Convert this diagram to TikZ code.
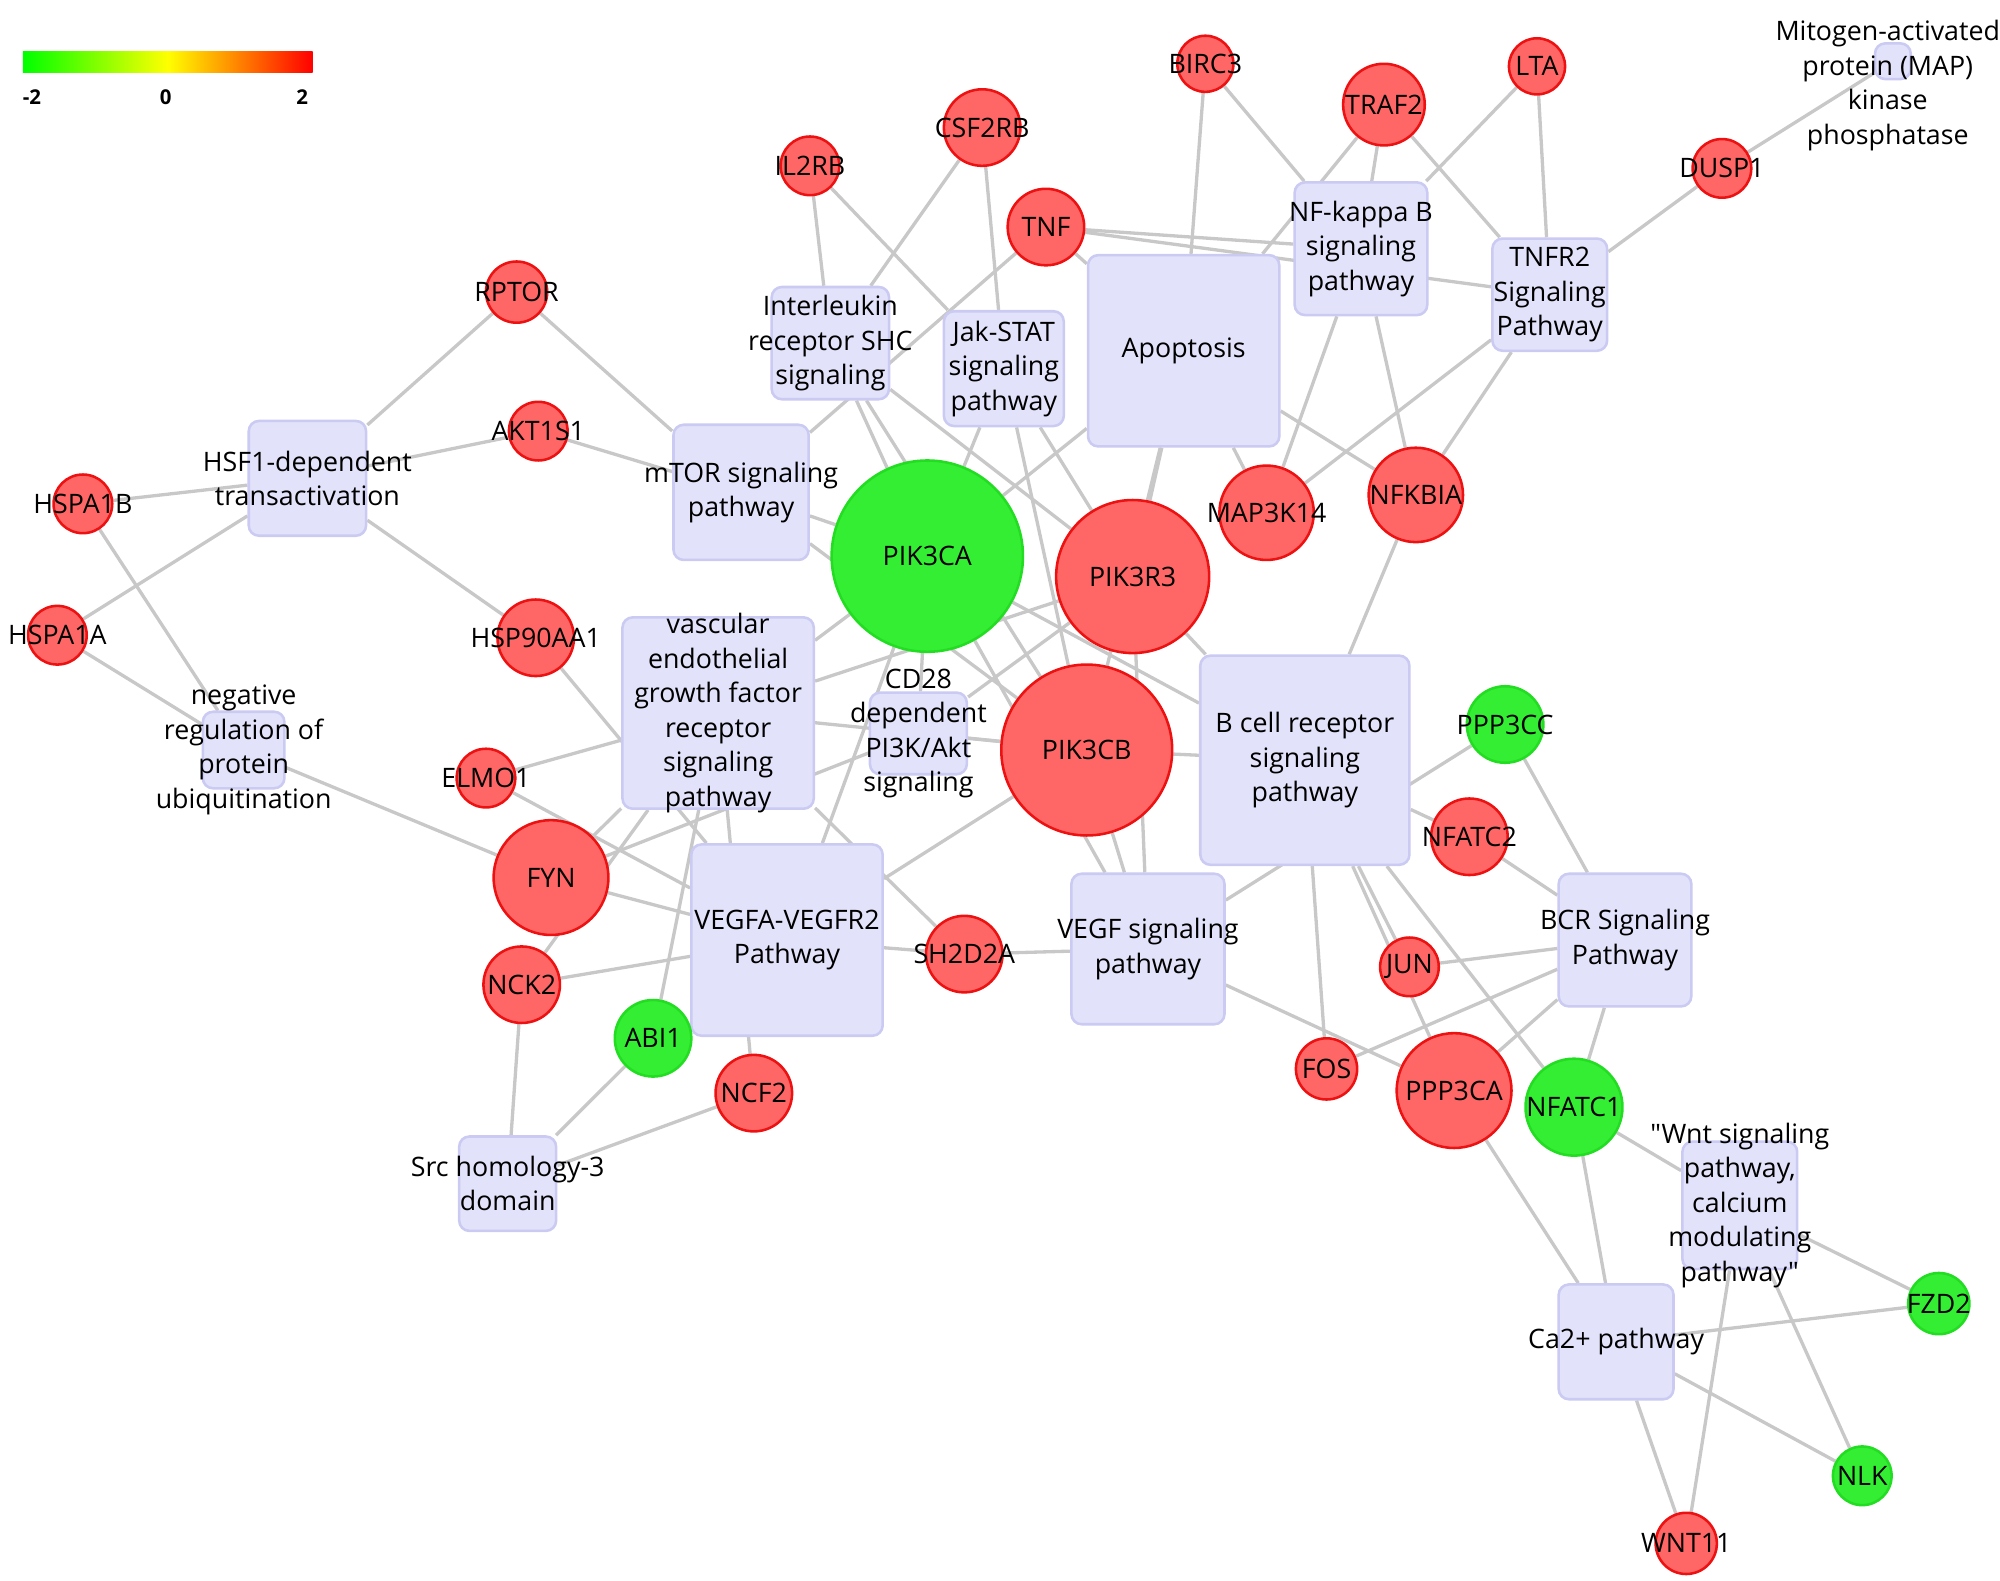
\documentclass[tikz,border=0pt]{standalone}
\usepackage{fontspec}
\setmainfont{Open Sans}[Mapping=]
\usetikzlibrary{backgrounds}
\definecolor{rfill}{HTML}{FF6666}
\definecolor{rdraw}{HTML}{EE1111}
\definecolor{gfill}{HTML}{33EE33}
\definecolor{gdraw}{HTML}{22DD22}
\definecolor{pfill}{HTML}{E2E2FA}
\definecolor{pdraw}{HTML}{CACAF2}
\definecolor{edge}{HTML}{C8C8C8}
\tikzset{
 gene/.style={circle,line width=1pt,inner sep=0pt},
 up/.style={gene,fill=rfill,draw=rdraw},
 down/.style={gene,fill=gfill,draw=gdraw},
 gtxt/.style={font=\fontsize{10.5}{12}\selectfont,inner sep=0pt},
 pbox/.style={rectangle,rounded corners=4pt,fill=pfill,draw=pdraw,line width=1pt,inner sep=0pt},
 ptxt/.style={align=center,font=\fontsize{10.5}{13.5}\selectfont},
 e/.style={draw=edge,line width=1.3pt}
}
\newcommand{\gn}[5]{\node[#1,minimum size=#5pt] (#2) at (#3,#4) {};\node[gtxt] at (#3,#4) {#2};}
\newcommand{\pw}[6]{\node[pbox,minimum width=#4pt,minimum height=#5pt] (#1) at (#2,#3) {};\node[ptxt] at (#2,#3) {#6};}
\begin{document}
\begin{tikzpicture}[x=0.5pt,y=-0.5pt]
\useasboundingbox (0,0) rectangle (1568,1239);
% legend
\shade[left color=green,right color=red,middle color=yellow] (18,40) rectangle (245,57);
\node[font=\fontsize{8}{9}\selectfont\bfseries] at (25,76) {-2};
\node[font=\fontsize{8}{9}\selectfont\bfseries] at (130,76) {0};
\node[font=\fontsize{8}{9}\selectfont\bfseries] at (237,76) {2};
% pathways
\pw{nfkb}{1067}{195}{52}{52}{NF-kappa B\\signaling\\pathway}
\pw{tnfr2}{1215}{231}{45}{44}{TNFR2\\Signaling\\Pathway}
\pw{map}{1484}{48}{14}{14}{}
\node[ptxt] at (1480,67) {Mitogen-activated\\protein (MAP)\\kinase\\phosphatase};
\pw{il}{651}{269}{46}{44}{Interleukin\\receptor SHC\\signaling}
\pw{jak}{787}{289}{47}{45}{Jak-STAT\\signaling\\pathway}
\pw{apo}{928}{275}{75}{75}{Apoptosis}
\pw{mtor}{581}{386}{53}{53}{mTOR signaling\\pathway}
\pw{hsf}{241}{375}{46}{45}{HSF1-dependent\\transactivation}
\pw{vasc}{563}{559}{75}{75}{vascular\\endothelial\\growth factor\\receptor\\signaling\\pathway}
\pw{cd}{720}{575}{38}{32}{CD28\\dependent\\PI3K/Akt\\signaling}
\pw{neg}{191}{588}{32}{30}{negative\\regulation of\\protein\\ubiquitination}
\pw{bcell}{1023}{596}{82}{82}{B cell receptor\\signaling\\pathway}
\pw{vegfa}{617}{737}{75}{75}{VEGFA-VEGFR2\\Pathway}
\pw{vegf}{900}{744}{60}{59}{VEGF signaling\\pathway}
\pw{bcr}{1274}{737}{52}{52}{BCR Signaling\\Pathway}
\pw{src}{398}{928}{38}{37}{Src homology-3\\domain}
\pw{wnt}{1364}{945}{45}{50}{"Wnt signaling\\pathway,\\calcium\\modulating\\pathway"}
\pw{ca}{1267}{1052}{45}{45}{Ca2+ pathway}
% genes
\gn{up}{BIRC3}{945}{50}{22}
\gn{up}{LTA}{1205}{52}{22}
\gn{up}{TRAF2}{1085}{82}{32}
\gn{up}{CSF2RB}{770}{100}{30}
\gn{up}{IL2RB}{635}{130}{23}
\gn{up}{DUSP1}{1350}{132}{23}
\gn{up}{TNF}{820}{178}{30}
\gn{up}{RPTOR}{405}{229}{24}
\gn{up}{AKT1S1}{422}{338}{23}
\gn{up}{HSPA1B}{65}{395}{23}
\gn{up}{NFKBIA}{1110}{388}{37}
\gn{up}{MAP3K14}{993}{402}{37}
\gn{down}{PIK3CA}{727}{436}{75}
\gn{up}{PIK3R3}{888}{452}{60}
\gn{up}{HSPA1A}{45}{498}{23}
\gn{up}{HSP90AA1}{420}{500}{30}
\gn{up}{PIK3CB}{852}{588}{67}
\gn{down}{PPP3CC}{1180}{568}{30}
\gn{up}{ELMO1}{381}{610}{23}
\gn{up}{NFATC2}{1152}{656}{30}
\gn{up}{FYN}{432}{688}{45}
\gn{up}{SH2D2A}{756}{748}{30}
\gn{up}{JUN}{1105}{758}{23}
\gn{up}{NCK2}{409}{772}{30}
\gn{down}{ABI1}{512}{814}{30}
\gn{up}{FOS}{1040}{838}{24}
\gn{up}{NCF2}{591}{857}{30}
\gn{up}{PPP3CA}{1140}{855}{45}
\gn{down}{NFATC1}{1234}{868}{38}
\gn{down}{FZD2}{1520}{1022}{24}
\gn{down}{NLK}{1460}{1157}{23}
\gn{up}{WNT11}{1322}{1210}{24}
\begin{scope}[on background layer]
\foreach \a/\b in {BIRC3/apo,BIRC3/nfkb,LTA/nfkb,LTA/tnfr2,TRAF2/nfkb,TRAF2/tnfr2,TRAF2/apo,
 CSF2RB/il,CSF2RB/jak,IL2RB/il,IL2RB/jak,TNF/nfkb,TNF/tnfr2,TNF/apo,TNF/mtor,DUSP1/tnfr2,DUSP1/map,
 RPTOR/hsf,RPTOR/mtor,AKT1S1/hsf,AKT1S1/mtor,HSPA1B/hsf,HSPA1B/neg,HSPA1A/hsf,HSPA1A/neg,
 HSP90AA1/hsf,HSP90AA1/vegfa,NFKBIA/nfkb,NFKBIA/tnfr2,NFKBIA/bcell,NFKBIA/apo,
 MAP3K14/nfkb,MAP3K14/tnfr2,MAP3K14/apo,
 PIK3CA/il,PIK3CA/jak,PIK3CA/mtor,PIK3CA/apo,PIK3CA/vasc,PIK3CA/vegfa,PIK3CA/vegf,PIK3CA/bcell,PIK3CA/cd,
 PIK3R3/jak,PIK3R3/apo,PIK3R3/bcell,PIK3R3/vegf,PIK3R3/cd,PIK3R3/il,PIK3R3/vasc,
 PIK3CB/il,PIK3CB/jak,PIK3CB/apo,PIK3CB/mtor,PIK3CB/vasc,PIK3CB/vegfa,PIK3CB/vegf,PIK3CB/bcell,PIK3CB/cd,
 PPP3CC/bcr,PPP3CC/vegf,ELMO1/vasc,ELMO1/vegfa,NFATC2/bcell,NFATC2/bcr,
 FYN/vasc,FYN/vegfa,FYN/neg,FYN/cd,SH2D2A/vegfa,SH2D2A/vegf,SH2D2A/vasc,
 JUN/bcell,JUN/bcr,NCK2/vegfa,NCK2/src,NCK2/vasc,ABI1/src,ABI1/vasc,NCF2/src,NCF2/vasc,
 FOS/bcell,FOS/bcr,PPP3CA/bcell,PPP3CA/bcr,PPP3CA/ca,PPP3CA/vegf,
 NFATC1/bcell,NFATC1/bcr,NFATC1/ca,NFATC1/wnt,FZD2/wnt,FZD2/ca,NLK/wnt,NLK/ca,WNT11/wnt,WNT11/ca}
 {\draw[e] (\a) -- (\b);}
\end{scope}
\end{tikzpicture}
\end{document}
